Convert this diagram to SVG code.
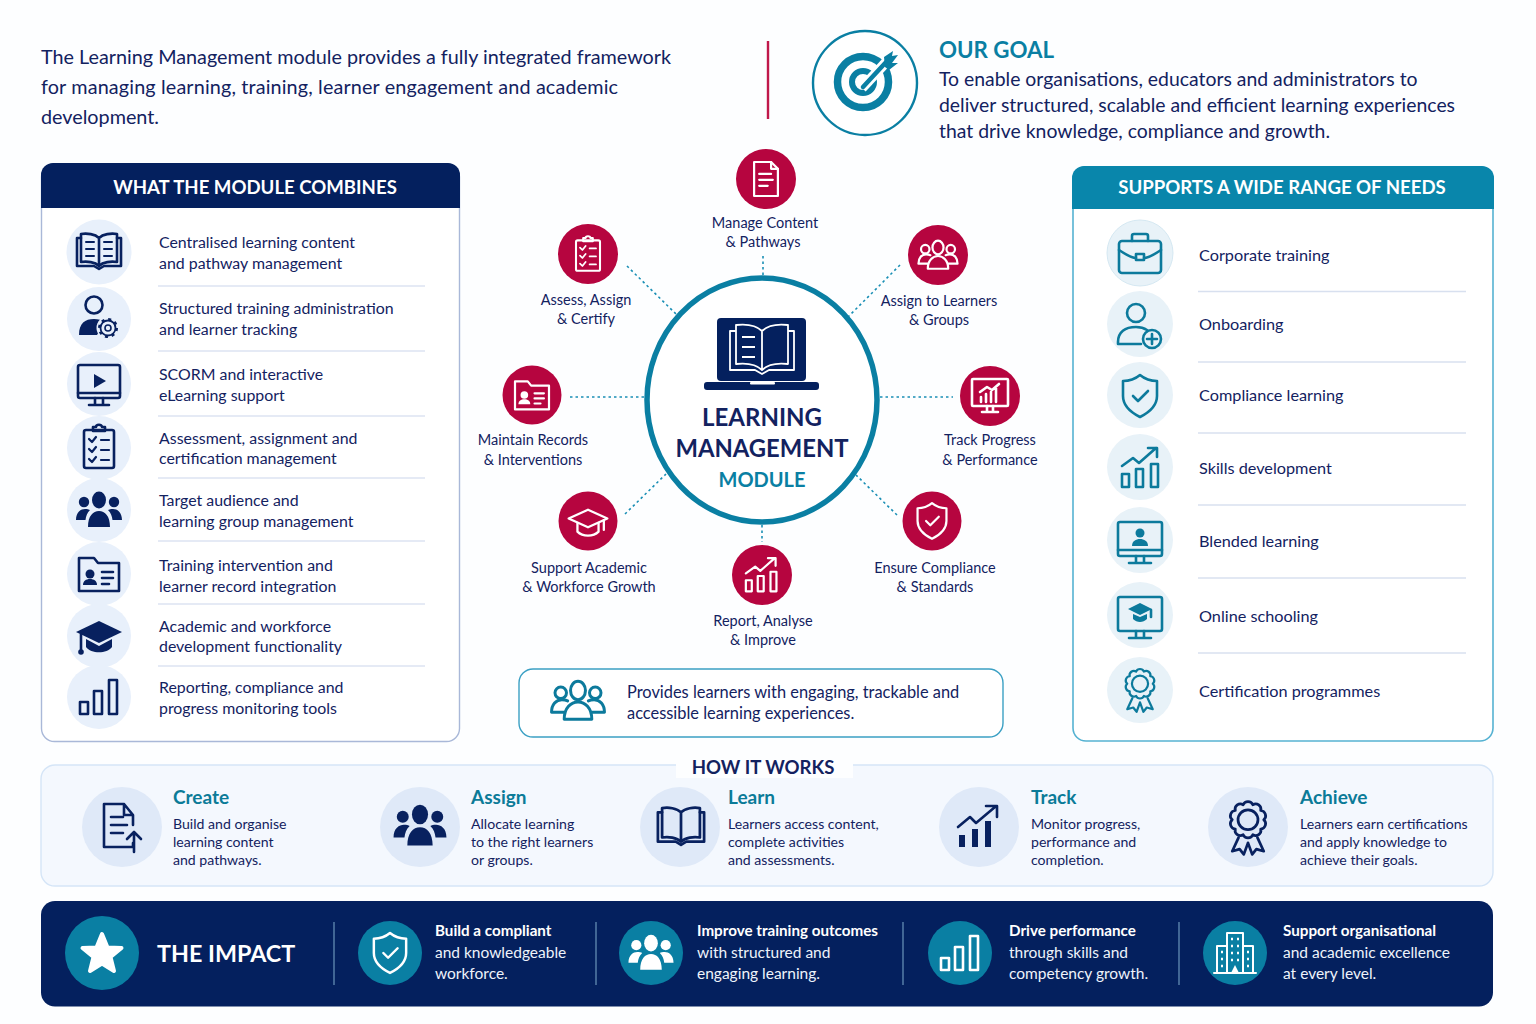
<svg xmlns="http://www.w3.org/2000/svg" width="1536" height="1024" viewBox="0 0 1536 1024">
<style>
text{font-family:"Lato","Noto Sans","Liberation Sans",sans-serif;fill:#13225f}
.intro{font-size:19.8px}.goal{font-size:19.4px}
.h{font-size:18.6px;font-weight:700;fill:#fff}
.row{font-size:15.9px}.rowr{font-size:16.25px}
.lab{font-size:14.5px;text-anchor:middle}
.st{font-size:19px;font-weight:700;fill:#0b7b98}
.sd{font-size:14.1px}
.imp{font-size:15.5px;fill:#eef3fb}.impb{font-size:15.2px;font-weight:700;fill:#fff}
.ln{fill:none;stroke:currentColor;stroke-width:2.6;stroke-linecap:round;stroke-linejoin:round}
.fl{fill:currentColor;stroke:none}
.navy{color:#08215f}.teal{color:#0c7a9c}.wh{color:#fff}
.c1{fill:#e8f0fb}.c2{fill:#e8f2f8}.c3{fill:#dfe9f8}.red{fill:#b6053f}.tc{fill:#0a7fa3}
.div1{stroke:#dde3f2;stroke-width:1.4}.div2{stroke:#d8e0ef;stroke-width:1.4}
.dot{stroke:#1a8fb5;stroke-width:1.6;stroke-dasharray:2.5 3;fill:none}
.arr{fill:none;stroke:#117f9f;stroke-width:2.6;stroke-linecap:round;stroke-linejoin:round}
.sep{stroke:#5c85ad;stroke-width:1.4}
</style>
<defs>
<g id="book" class="ln"><path d="M0-14C-4-18-12-19-18-18V10C-12 9-4 10 0 14 4 10 12 9 18 10V-18C12-19 4-18 0-14ZM0-14V14"/><path d="M-18-14H-22V14H-5L0 17 5 14H22V-14H18"/><path d="M-13-10H-5M-13-3H-5M-13 4H-5M5-10H13M5-3H13M5 4H13" stroke-width="2"/></g>
<g id="book2" class="ln"><path d="M0-14C-4-18-12-19-18-18V10C-12 9-4 10 0 14 4 10 12 9 18 10V-18C12-19 4-18 0-14ZM0-14V14"/><path d="M-18-14H-22V14H-5L0 17 5 14H22V-14H18"/></g>
<g id="usergear"><circle class="ln" cx="-3" cy="-13" r="8.500"/><path class="fl" d="M-18 17C-18 5-12 1-3 1 1 1 5 2 8 4L0 17Z"/><circle cx="11" cy="10" r="11.500" fill="#e8f0fb"/><circle cx="11" cy="10" r="7.500" fill="none" stroke="#08215f" stroke-width="1.800"/><circle cx="11" cy="10" r="8.800" fill="none" stroke="#08215f" stroke-width="2.400" stroke-dasharray="3 3.900"/><circle cx="11" cy="10" r="3" fill="none" stroke="#08215f" stroke-width="1.600"/></g>
<g id="monplay" class="ln"><rect x="-21" y="-19" width="42" height="33" rx="2"/><path d="M-21 9H21M-4 14V20M4 14V20M-10 21H10"/><path class="fl" d="M-5-10 7-3-5 4Z"/></g>
<g id="clip" class="ln"><rect x="-15" y="-17" width="30" height="38" rx="2"/><path d="M-6-16V-20H-3C-3-23 3-23 3-20H6V-16Z"/><path d="M-10-8-7-5-3-10M-10 2-7 5-3 0M-10 12-7 15-3 10M2-7H10M2 3H10M2 13H10" stroke-width="2.200"/></g>
<g id="ppl"><ellipse class="fl" cx="0" cy="-10" rx="7" ry="8.500"/><circle class="fl" cx="-15" cy="-8" r="5.200"/><circle class="fl" cx="15" cy="-8" r="5.200"/><path class="fl" d="M-23 10C-23 2-18-1-14-1-12-1-10-.5-9 0-12 3-13 6-13.500 10ZM23 10C23 2 18-1 14-1 12-1 10-.5 9 0 12 3 13 6 13.500 10ZM-11 17C-11 6-6 1 0 1 6 1 11 6 11 17Z"/></g>
<g id="pploutline" class="ln"><ellipse cx="0" cy="-10" rx="6.500" ry="8"/><circle cx="-15" cy="-8" r="5"/><circle cx="15" cy="-8" r="5"/><path d="M-9-1C-11-2-12-2-14-2-19-2-23 2-23 9H-12M9-1C11-2 12-2 14-2 19-2 23 2 23 9H12M-12 15C-12 5-6 0 0 0 6 0 12 5 12 15Z"/></g>
<g id="folder"><path class="ln" d="M-20-16H-5L-1-11H20V17H-20Z"/><circle class="fl" cx="-9" cy="0" r="4.500"/><path class="fl" d="M-16 11C-16 7-13 5-9 5-5 5-2 7-2 11Z"/><path class="ln" d="M3-2H14M3 4H14M3 10H10" stroke-width="2"/></g>
<g id="capf"><path class="fl" d="M0-15 23-4 0 7-23-4Z"/><path class="fl" d="M-13 3V11C-8 18 8 18 13 11V3L0 10Z"/><path class="ln" d="M-18-2V14" stroke-width="2"/><circle class="fl" cx="-18" cy="16" r="2.800"/></g>
<g id="capl" class="ln"><path d="M0-14 22-4 0 6-22-4Z"/><path d="M-12 1V11C-6 17 6 17 12 11V1M18-2V9"/></g>
<g id="bars" class="ln"><rect x="-19" y="5" width="8" height="12"/><rect x="-5" y="-6" width="8" height="23"/><rect x="10" y="-17" width="8" height="34"/></g>
<g id="barsup" class="ln"><rect x="-19" y="5" width="7" height="13"/><rect x="-5" y="0" width="7" height="18"/><rect x="10" y="-5" width="7" height="23"/><path d="M-19-3-8-11-2-6 15-21M7-21H16V-12"/></g>
<g id="barsf"><rect class="fl" x="-20" y="5" width="6" height="12"/><rect class="fl" x="-7" y="-1" width="6" height="18"/><rect class="fl" x="6" y="-9" width="6" height="26"/><path class="ln" d="M-21-3-9-13-3-7 16-23M7-24H18V-13" stroke-width="2.800"/></g>
<g id="doc" class="ln"><path d="M-14-20H6L14-12V20H-14Z"/><path d="M6-20V-12H14M-8-6H6M-8 1H8M-8 8H2"/></g>
<g id="docup" class="ln"><path d="M11 16V20H-18V-23H2L11-12V-2M2-23V-12H11M-11-10H1M-11-2H5M-11 6H1"/><path d="M12 25V5M5 12 12 5 19 12"/></g>
<g id="shield" class="ln"><path d="M0-21C6-16 12-15 17-15V0C17 11 8 17 0 21-8 17-17 11-17 0V-15C-12-15-6-16 0-21Z"/><path d="M-7 0-2 5 8-5"/></g>
<g id="brief" class="ln"><rect x="-21" y="-12" width="42" height="32" rx="3"/><path d="M-8-12V-17A2 2 0 0 1-6-19H6A2 2 0 0 1 8-17V-12M-21-3C-12 3-8 5-4 5M21-3C12 3 8 5 4 5"/><rect x="-4" y="1" width="8" height="6"/></g>
<g id="userplus" class="ln"><circle cx="-3" cy="-13" r="9"/><path d="M-21 18V16C-21 6-14 1-3 1 2 1 5 2 8 4M-21 18H2"/><circle cx="13" cy="13" r="9"/><path d="M13 8V18M8 13H18"/></g>
<g id="monper"><rect class="ln" x="-22" y="-18" width="44" height="34" rx="2"/><path class="ln" d="M-22 10H22M-4 16V22M4 16V22M-11 23H11"/><circle class="fl" cx="0" cy="-7" r="4.500"/><path class="fl" d="M-8 6C-8 1-4-1 0-1 4-1 8 1 8 6Z"/></g>
<g id="moncap"><rect class="ln" x="-22" y="-18" width="44" height="34" rx="2"/><path class="ln" d="M-4 16V22M4 16V22M-11 23H11"/><path class="fl" d="M0-12 12-6 0 0-12-6Z"/><path class="fl" d="M-7-1V4C-3 8 3 8 7 4V-1L0 2Z"/><path class="ln" d="M11-5V2" stroke-width="1.600"/></g>
<g id="ros" class="ln"><g transform="translate(0,-5)"><path d="M15 0A5 5 0 0 1 12.100 8.800 5 5 0 0 1 4.600 14.300 5 5 0 0 1-4.600 14.300 5 5 0 0 1-12.100 8.800 5 5 0 0 1-15 0 5 5 0 0 1-12.100-8.800 5 5 0 0 1-4.600-14.300 5 5 0 0 1 4.600-14.300 5 5 0 0 1 12.100-8.800 5 5 0 0 1 15 0Z"/><circle r="9.500"/></g><path d="M-9 12-15 25-8 23-4 28 0 17M9 12 15 25 8 23 4 28 0 17"/></g>
<g id="bld" class="ln"><path d="M-8 20V-20H8V20M-8-7H-18V20M8-7H18V20M-21 20H21" stroke-width="2"/><path d="M-4-14H-2M2-14H4M-4-7H-2M2-7H4M-4 0H-2M2 0H4M-4 7H-2M2 7H4M-14-1H-12M12-1H14M-14 6H-12M12 6H14M-14 13H-12M12 13H14" stroke-width="2.600" stroke-linecap="butt"/><path class="fl" d="M-4 20 0 12 4 20Z"/></g>
<g id="star"><path d="M0-20 5.500-6.500 19.500-6 8.500 3 12 17 0 9.500-12 17-8.500 3-19.500-6-5.500-6.500Z" fill="#fff" stroke="#fff" stroke-width="4" stroke-linejoin="round"/></g>
</defs>

<rect width="1536" height="1024" fill="#fdfeff"/>

<g id="intro">
<text class="intro" x="41" y="64">The Learning Management module provides a fully integrated framework</text>
<text class="intro" x="41" y="94" textLength="577">for managing learning, training, learner engagement and academic</text>
<text class="intro" x="41" y="124">development.</text>
<line x1="768" y1="41" x2="768" y2="119" stroke="#c0184a" stroke-width="2.400"/>
</g>

<g id="our-goal">
<circle cx="865" cy="83" r="52" fill="#fff" stroke="#0a7fa3" stroke-width="2.400"/>
<circle cx="863" cy="82" r="25.500" fill="none" stroke="#0a7fa3" stroke-width="7.500"/>
<circle cx="863" cy="82" r="11" fill="none" stroke="#0a7fa3" stroke-width="6"/>
<path d="M862 88 890 58" stroke="#fff" stroke-width="10" fill="none"/>
<path d="M863 87 888 60" stroke="#0a7fa3" stroke-width="4.500" stroke-linecap="round" fill="none"/>
<path d="M884 57 893 51 892 56 898 55 892 63 898 63 889 70 885 67Z" fill="#0a7fa3"/>
<text x="939" y="58" font-size="22.300" font-weight="700" style="fill:#0a7fa3">OUR GOAL</text>
<text class="goal" x="939" y="86">To enable organisations, educators and administrators to</text>
<text class="goal" x="939" y="112">deliver structured, scalable and efficient learning experiences</text>
<text class="goal" x="939" y="138">that drive knowledge, compliance and growth.</text>
</g>

<g id="combines-panel">
<rect x="41.500" y="164" width="418" height="577.500" rx="13" fill="#fff" stroke="#a9b8d8" stroke-width="1.400"/>
<path d="M41 208V175A12 12 0 0 1 53 163H448A12 12 0 0 1 460 175V208Z" fill="#04205e"/>
<text class="h" x="255" y="194" text-anchor="middle">WHAT THE MODULE COMBINES</text>
<g id="c1"><circle class="c1" cx="99" cy="252" r="32.500"/><use href="#book" x="99" y="252" class="navy"/><text class="row" x="159" y="248">Centralised learning content</text><text class="row" x="159" y="269">and pathway management</text></g>
<line class="div1" x1="158" y1="286" x2="425" y2="286"/>
<g id="c2"><circle class="c1" cx="99" cy="319" r="32"/><use href="#usergear" x="97" y="318" class="navy"/><text class="row" x="159" y="314">Structured training administration</text><text class="row" x="159" y="335">and learner tracking</text></g>
<line class="div1" x1="158" y1="351" x2="425" y2="351"/>
<g id="c3"><circle class="c1" cx="99" cy="384" r="32"/><use href="#monplay" x="99" y="384" class="navy"/><text class="row" x="159" y="380">SCORM and interactive</text><text class="row" x="159" y="401">eLearning support</text></g>
<line class="div1" x1="158" y1="416" x2="425" y2="416"/>
<g id="c4"><circle class="c1" cx="99" cy="448" r="32"/><use href="#clip" x="99" y="447" class="navy"/><text class="row" x="159" y="444">Assessment, assignment and</text><text class="row" x="159" y="464">certification management</text></g>
<line class="div1" x1="158" y1="478" x2="425" y2="478"/>
<g id="c5"><circle class="c1" cx="99" cy="510" r="32"/><use href="#ppl" x="99" y="510" class="navy"/><text class="row" x="159" y="506">Target audience and</text><text class="row" x="159" y="527">learning group management</text></g>
<line class="div1" x1="158" y1="541" x2="425" y2="541"/>
<g id="c6"><circle class="c1" cx="99" cy="574" r="32"/><use href="#folder" x="99" y="574" class="navy"/><text class="row" x="159" y="571">Training intervention and</text><text class="row" x="159" y="592">learner record integration</text></g>
<line class="div1" x1="158" y1="604" x2="425" y2="604"/>
<g id="c7"><circle class="c1" cx="99" cy="636" r="32"/><use href="#capf" x="99" y="636" class="navy"/><text class="row" x="159" y="632">Academic and workforce</text><text class="row" x="159" y="652">development functionality</text></g>
<line class="div1" x1="158" y1="666" x2="425" y2="666"/>
<g id="c8"><circle class="c1" cx="99" cy="697" r="32"/><use href="#bars" x="99" y="697" class="navy"/><text class="row" x="159" y="693">Reporting, compliance and</text><text class="row" x="159" y="714">progress monitoring tools</text></g>
</g>

<g id="needs-panel">
<rect x="1073" y="167" width="420" height="574" rx="13" fill="#fff" stroke="#55b2d2" stroke-width="1.600"/>
<path d="M1072 209V178A12 12 0 0 1 1084 166H1482A12 12 0 0 1 1494 178V209Z" fill="#0986ab"/>
<text class="h" x="1282" y="194" text-anchor="middle">SUPPORTS A WIDE RANGE OF NEEDS</text>
<g id="n1"><circle class="c2" cx="1140" cy="253" r="33" stroke="#d5e8f2"/><use href="#brief" x="1140" y="253" class="teal"/><text class="rowr" x="1199" y="261">Corporate training</text></g>
<line class="div2" x1="1198" y1="291.500" x2="1466" y2="291.500"/>
<g id="n2"><circle class="c2" cx="1140" cy="324" r="33"/><use href="#userplus" x="1139" y="326" class="teal"/><text class="rowr" x="1199" y="330">Onboarding</text></g>
<line class="div2" x1="1198" y1="362" x2="1466" y2="362"/>
<g id="n3"><circle class="c2" cx="1140" cy="395" r="33"/><use href="#shield" x="1140" y="396" class="teal"/><text class="rowr" x="1199" y="401">Compliance learning</text></g>
<line class="div2" x1="1198" y1="433" x2="1466" y2="433"/>
<g id="n4"><circle class="c2" cx="1140" cy="467" r="33"/><use href="#barsup" x="1141" y="469" class="teal"/><text class="rowr" x="1199" y="474">Skills development</text></g>
<line class="div2" x1="1198" y1="505" x2="1466" y2="505"/>
<g id="n5"><circle class="c2" cx="1140" cy="540" r="33"/><use href="#monper" x="1140" y="540" class="teal"/><text class="rowr" x="1199" y="547">Blended learning</text></g>
<line class="div2" x1="1198" y1="578" x2="1466" y2="578"/>
<g id="n6"><circle class="c2" cx="1140" cy="615" r="33"/><use href="#moncap" x="1140" y="615" class="teal"/><text class="rowr" x="1199" y="622">Online schooling</text></g>
<line class="div2" x1="1198" y1="653" x2="1466" y2="653"/>
<g id="n7"><circle class="c2" cx="1140" cy="690" r="33"/><use href="#ros" class="teal" transform="translate(1140,688) scale(.85)"/><text class="rowr" x="1199" y="697">Certification programmes</text></g>
</g>

<g id="connectors">
<line class="dot" x1="763" y1="256" x2="763" y2="276"/>
<line class="dot" x1="627" y1="266" x2="676" y2="314"/>
<line class="dot" x1="900" y1="265" x2="848" y2="317"/>
<line class="dot" x1="570" y1="397" x2="645" y2="397"/>
<line class="dot" x1="880" y1="397" x2="953" y2="397"/>
<line class="dot" x1="625" y1="514" x2="666" y2="474"/>
<line class="dot" x1="897" y1="515" x2="856" y2="475"/>
<line class="dot" x1="762" y1="525" x2="762" y2="542"/>
<path class="arr" d="M327 827H357M346 817 357 827 346 837"/>
<path class="arr" d="M606 827H631M620 817 631 827 620 837"/>
<path class="arr" d="M897 827H926M915 817 926 827 915 837"/>
<path class="arr" d="M1163 827H1193M1182 817 1193 827 1182 837"/>
</g>

<g id="hub">
<ellipse cx="762" cy="400" rx="115" ry="122" fill="#fff" stroke="#0a7fa3" stroke-width="5.500"/>
<rect x="717" y="318" width="89" height="63" rx="4" fill="#04205e"/>
<rect x="704" y="382" width="115" height="8" rx="3" fill="#04205e"/>
<rect x="750" y="382" width="25" height="2.500" rx="1" fill="#fff"/>
<path d="M762 331C756 325 745 324 736 325V364C745 363 756 364 762 370 768 364 779 363 788 364V325C779 324 768 325 762 331ZM762 331V370M736 331H730V370H755L762 374 769 370H794V331H788M742 337H755M742 347H755M742 357H755" fill="none" stroke="#fff" stroke-width="1.800" stroke-linejoin="round"/>
<text x="762" y="426" font-size="24" font-weight="700" text-anchor="middle">LEARNING</text>
<text x="762" y="457" font-size="23.800" font-weight="700" text-anchor="middle">MANAGEMENT</text>
<text x="762" y="487" font-size="20" font-weight="700" text-anchor="middle" style="fill:#0a7fa3">MODULE</text>
</g>

<g id="manage"><circle class="red" cx="766" cy="179" r="30"/><use href="#doc" class="wh" transform="translate(766,179) scale(.85)"/><text class="lab" x="765" y="228">Manage Content</text><text class="lab" x="763" y="247">&amp; Pathways</text></g>
<g id="assess"><circle class="red" cx="588" cy="254" r="30"/><use href="#clip" class="wh" transform="translate(588,254) scale(.8)"/><text class="lab" x="586" y="305">Assess, Assign</text><text class="lab" x="586" y="324">&amp; Certify</text></g>
<g id="assign"><circle class="red" cx="938" cy="255" r="30"/><use href="#pploutline" class="wh" transform="translate(938,256) scale(.85)"/><text class="lab" x="939" y="306">Assign to Learners</text><text class="lab" x="939" y="325">&amp; Groups</text></g>
<g id="maintain"><circle class="red" cx="532" cy="395" r="29.500"/><use href="#folder" class="wh" transform="translate(532,395) scale(.85)"/><text class="lab" x="533" y="445">Maintain Records</text><text class="lab" x="533" y="465">&amp; Interventions</text></g>
<g id="track"><circle class="red" cx="990" cy="396" r="30"/><g transform="translate(990,394)" class="wh"><rect class="ln" x="-18" y="-15" width="36" height="27" rx="1" stroke-width="2"/><path class="ln" stroke-width="2" d="M-3 12V18M3 12V18M-8 18H8"/><path class="ln" stroke-width="2" d="M-9 8V3M-4 8V0M1 8V-2M6 8V-6M-10-2-3-7 2-4 9-10"/></g><text class="lab" x="990" y="445">Track Progress</text><text class="lab" x="990" y="465">&amp; Performance</text></g>
<g id="support"><circle class="red" cx="588" cy="521" r="29.500"/><use href="#capl" class="wh" transform="translate(588,522) scale(.88)"/><text class="lab" x="589" y="573">Support Academic</text><text class="lab" x="589" y="592">&amp; Workforce Growth</text></g>
<g id="ensure"><circle class="red" cx="932" cy="521" r="29.500"/><use href="#shield" class="wh" transform="translate(932,521) scale(.85)"/><text class="lab" x="935" y="573">Ensure Compliance</text><text class="lab" x="935" y="592">&amp; Standards</text></g>
<g id="report"><circle class="red" cx="762" cy="575" r="30"/><use href="#barsup" class="wh" transform="translate(762,576) scale(.85)"/><text class="lab" x="763" y="626">Report, Analyse</text><text class="lab" x="763" y="645">&amp; Improve</text></g>

<g id="learners-box">
<rect x="519" y="669" width="484" height="68" rx="14" fill="#fff" stroke="#3ba0c4" stroke-width="1.400"/>
<use href="#pploutline" class="teal" transform="translate(578,702) scale(1.150)"/>
<text x="627" y="698" font-size="16.400">Provides learners with engaging, trackable and</text>
<text x="627" y="719" font-size="16.400">accessible learning experiences.</text>
</g>

<g id="how-it-works">
<rect x="41" y="765" width="1452" height="121" rx="14" fill="#f4f8fe" stroke="#d5e5f7" stroke-width="1.400"/>
<rect x="676" y="752" width="177" height="26" fill="#fdfeff"/>
<text x="763" y="774" font-size="18.600" font-weight="700" text-anchor="middle">HOW IT WORKS</text>
<g id="create"><circle class="c3" cx="122" cy="827" r="40"/><use href="#docup" x="122" y="827" class="navy"/><text class="st" x="173" y="804">Create</text><text class="sd" x="173" y="829">Build and organise</text><text class="sd" x="173" y="847">learning content</text><text class="sd" x="173" y="865">and pathways.</text></g>
<g id="assign-step"><circle class="c3" cx="420" cy="827" r="40"/><use href="#ppl" class="navy" transform="translate(420,826) scale(1.150)"/><text class="st" x="471" y="804">Assign</text><text class="sd" x="471" y="829">Allocate learning</text><text class="sd" x="471" y="847">to the right learners</text><text class="sd" x="471" y="865">or groups.</text></g>
<g id="learn"><circle class="c3" cx="680" cy="827" r="40"/><use href="#book2" class="navy" transform="translate(681,827) scale(1.050)"/><text class="st" x="728" y="804">Learn</text><text class="sd" x="728" y="829">Learners access content,</text><text class="sd" x="728" y="847">complete activities</text><text class="sd" x="728" y="865">and assessments.</text></g>
<g id="track-step"><circle class="c3" cx="979" cy="827" r="40"/><use href="#barsf" x="979" y="830" class="navy"/><text class="st" x="1031" y="804">Track</text><text class="sd" x="1031" y="829">Monitor progress,</text><text class="sd" x="1031" y="847">performance and</text><text class="sd" x="1031" y="865">completion.</text></g>
<g id="achieve"><circle class="c3" cx="1248" cy="827" r="40"/><use href="#ros" class="navy" transform="translate(1248,825) scale(1.050)"/><text class="st" x="1300" y="804">Achieve</text><text class="sd" x="1300" y="829">Learners earn certifications</text><text class="sd" x="1300" y="847">and apply knowledge to</text><text class="sd" x="1300" y="865">achieve their goals.</text></g>
</g>

<g id="impact">
<rect x="41" y="901" width="1452" height="105.500" rx="14" fill="#04205e"/>
<circle class="tc" cx="102" cy="953" r="37"/><use href="#star" x="102" y="954"/>
<text x="157" y="962" font-size="23.300" font-weight="700" style="fill:#fff">THE IMPACT</text>
<line class="sep" x1="334" y1="922" x2="334" y2="985"/>
<line class="sep" x1="596" y1="922" x2="596" y2="985"/>
<line class="sep" x1="903" y1="922" x2="903" y2="985"/>
<line class="sep" x1="1179" y1="922" x2="1179" y2="985"/>
<g id="imp1"><circle class="tc" cx="390" cy="953" r="32"/><use href="#shield" class="wh" transform="translate(390,953) scale(.95)"/><text class="impb" x="435" y="936">Build a compliant</text><text class="imp" x="435" y="958">and knowledgeable</text><text class="imp" x="435" y="979">workforce.</text></g>
<g id="imp2"><circle class="tc" cx="651" cy="953" r="32"/><use href="#ppl" class="wh" transform="translate(651,953) scale(.98)"/><text class="impb" x="697" y="936">Improve training outcomes</text><text class="imp" x="697" y="958">with structured and</text><text class="imp" x="697" y="979">engaging learning.</text></g>
<g id="imp3"><circle class="tc" cx="960" cy="953" r="32"/><use href="#bars" class="wh" transform="translate(960,953)"/><text class="impb" x="1009" y="936">Drive performance</text><text class="imp" x="1009" y="958">through skills and</text><text class="imp" x="1009" y="979">competency growth.</text></g>
<g id="imp4"><circle class="tc" cx="1235" cy="953" r="32"/><use href="#bld" class="wh" transform="translate(1235,953)"/><text class="impb" x="1283" y="936">Support organisational</text><text class="imp" x="1283" y="958">and academic excellence</text><text class="imp" x="1283" y="979">at every level.</text></g>
</g>
</svg>
